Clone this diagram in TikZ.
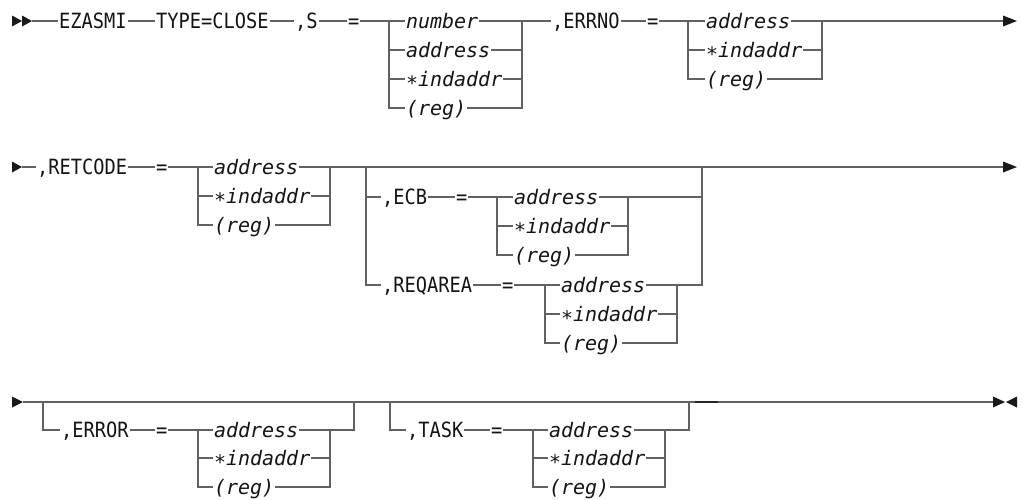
\documentclass[tikz,border=0pt]{standalone}
\usepackage{fontspec}
\newfontfamily\dmono{DejaVu Sans Mono}
\newfontfamily\dmonokw[FakeStretch=0.89]{DejaVu Sans Mono}
\newcommand\kwfont{\dmonokw\fontsize{21}{22}\selectfont}
\newcommand\varfont{\dmono\itshape\fontsize{20}{22}\selectfont}
\newcommand\lowast{\raisebox{-0.22em}{*}}
\tikzset{
  ln/.style={draw=black!62, line width=1.2pt},
  dk/.style={draw=black!85, line width=1.6pt},
  txt/.style={anchor=west, inner xsep=0.8pt, inner ysep=0pt, text height=14pt, text depth=0pt, text=black!92},
  kw/.style={txt, font=\kwfont},
  var/.style={txt, font=\varfont},
  tip/.style={fill=black!90}
}
\begin{document}
\begin{tikzpicture}[x=1pt,y=-1pt]
\useasboundingbox (0,0) rectangle (1023,499);

% ---------------- Row 1 ----------------
\fill[tip] (12,15.5) -- (22,21) -- (12,26.5) -- cycle;
\fill[tip] (22,15.5) -- (32,21) -- (22,26.5) -- cycle;
\coordinate (r1s) at (32,21);
\node[kw] (ezasmi) at (58,21) {EZASMI};
\node[kw] (type) at (155,21) {TYPE=CLOSE};
\node[kw] (s) at (294,21) {,S};
\node[kw] (eq1) at (347,21) {=};
\coordinate (L1) at (389,21);
\node[var] (n1) at (405,21) {number};
\node[var] (a1) at (405,50) {address};
\node[var] (i1) at (405,79) {\lowast indaddr};
\node[var] (r1) at (405,108) {(reg)};
\coordinate (R1) at (522,21);
\node[kw] (errno) at (551,21) {,ERRNO};
\node[kw] (eq2) at (646,21) {=};
\coordinate (L2) at (688,21);
\node[var] (a2) at (705,21) {address};
\node[var] (i2) at (705,50) {\lowast indaddr};
\node[var] (r2) at (705,79) {(reg)};
\coordinate (R2) at (822,21);
\coordinate (e1) at (1003,21);
\fill[tip] (1003,15.5) -- (1017,21) -- (1003,26.5) -- cycle;

\draw[ln] (r1s) -- (ezasmi.west) (ezasmi.east) -- (type.west) (type.east) -- (s.west)
  (s.east) -- (eq1.west) (eq1.east) -- (n1.west);
\draw[ln] (L1) |- (r1.west) (a1.west -| L1) -- (a1.west) (i1.west -| L1) -- (i1.west);
\draw[ln] (n1.east) -- (R1) -- (R1 |- r1.east) -- (r1.east)
  (a1.east) -- (a1.east -| R1) (i1.east) -- (i1.east -| R1);
\draw[ln] (R1) -- (errno.west) (errno.east) -- (eq2.west) (eq2.east) -- (a2.west);
\draw[ln] (L2) |- (r2.west) (i2.west -| L2) -- (i2.west);
\draw[ln] (a2.east) -- (R2) -- (R2 |- r2.east) -- (r2.east) (i2.east) -- (i2.east -| R2);
\draw[ln] (R2) -- (e1);

% ---------------- Row 2 ----------------
\fill[tip] (12,161.5) -- (22,167) -- (12,172.5) -- cycle;
\coordinate (r2s) at (22,167);
\node[kw] (retcode) at (36,167) {,RETCODE};
\node[kw] (eq3) at (155,167) {=};
\coordinate (L3) at (198,167);
\node[var] (a3) at (213,167) {address};
\node[var] (i3) at (213,196) {\lowast indaddr};
\node[var] (r3) at (213,225) {(reg)};
\coordinate (R3) at (330,167);
\coordinate (OL) at (366,167);
\coordinate (OR) at (702,167);
\node[kw] (ecb) at (381,197) {,ECB};
\node[kw] (eq4) at (455,197) {=};
\coordinate (L4) at (497,197);
\node[var] (a4) at (513,197) {address};
\node[var] (i4) at (513,226) {\lowast indaddr};
\node[var] (r4) at (513,255) {(reg)};
\coordinate (R4) at (628,197);
\node[kw] (reqarea) at (381,285) {,REQAREA};
\node[kw] (eq5) at (501,285) {=};
\coordinate (L5) at (545,285);
\node[var] (a5) at (560,285) {address};
\node[var] (i5) at (560,314) {\lowast indaddr};
\node[var] (r5) at (560,343) {(reg)};
\coordinate (R5) at (677,285);
\coordinate (e2) at (1003,167);
\fill[tip] (1003,161.5) -- (1017,167) -- (1003,172.5) -- cycle;

\draw[ln] (r2s) -- (retcode.west) (retcode.east) -- (eq3.west) (eq3.east) -- (a3.west);
\draw[ln] (L3) |- (r3.west) (i3.west -| L3) -- (i3.west);
\draw[ln] (a3.east) -- (R3) -- (R3 |- r3.east) -- (r3.east) (i3.east) -- (i3.east -| R3);
\draw[ln] (R3) -- (OL) -- (OR) -- (e2);
\draw[ln] (OL) |- (reqarea.west) (ecb.west -| OL) -- (ecb.west);
\draw[ln] (ecb.east) -- (eq4.west) (eq4.east) -- (a4.west);
\draw[ln] (L4) |- (r4.west) (i4.west -| L4) -- (i4.west);
\draw[ln] (a4.east) -- (R4) -- (R4 |- r4.east) -- (r4.east) (i4.east) -- (i4.east -| R4);
\draw[ln] (R4) -- (OR |- R4);
\draw[ln] (reqarea.east) -- (eq5.west) (eq5.east) -- (a5.west);
\draw[ln] (L5) |- (r5.west) (i5.west -| L5) -- (i5.west);
\draw[ln] (a5.east) -- (R5) -- (R5 |- r5.east) -- (r5.east) (i5.east) -- (i5.east -| R5);
\draw[ln] (R5) -- (OR |- R5) -- (OR);

% ---------------- Row 3 ----------------
\fill[tip] (12,396.5) -- (23,402) -- (12,407.5) -- cycle;
\coordinate (r3s) at (23,402);
\coordinate (O1L) at (43,402);
\coordinate (O1R) at (354,402);
\node[kw] (error) at (60,430) {,ERROR};
\node[kw] (eq6) at (155,430) {=};
\coordinate (L6) at (198,430);
\node[var] (a6) at (213,430) {address};
\node[var] (i6) at (213,458) {\lowast indaddr};
\node[var] (r6) at (213,487) {(reg)};
\coordinate (R6) at (330,430);
\coordinate (O2L) at (390,402);
\coordinate (O2R) at (689,402);
\node[kw] (task) at (406,430) {,TASK};
\node[kw] (eq7) at (490,430) {=};
\coordinate (L7) at (533,430);
\node[var] (a7) at (548,430) {address};
\node[var] (i7) at (548,458) {\lowast indaddr};
\node[var] (r7) at (548,487) {(reg)};
\coordinate (R7) at (665,430);
\coordinate (d1) at (695,402);
\coordinate (d2) at (718,402);
\coordinate (e3) at (993,402);
\fill[tip] (993,396.5) -- (1005,402) -- (993,407.5) -- cycle;
\fill[tip] (1017,396.5) -- (1006,402) -- (1017,407.5) -- cycle;

\draw[ln] (r3s) -- (O1L) -- (O1R) -- (O2L) -- (O2R) -- (e3);
\draw[ln] (O1L) |- (error.west) (error.east) -- (eq6.west) (eq6.east) -- (a6.west);
\draw[ln] (L6) |- (r6.west) (i6.west -| L6) -- (i6.west);
\draw[ln] (a6.east) -- (R6) -- (R6 |- r6.east) -- (r6.east) (i6.east) -- (i6.east -| R6);
\draw[ln] (R6) -- (O1R |- R6) -- (O1R);
\draw[ln] (O2L) |- (task.west) (task.east) -- (eq7.west) (eq7.east) -- (a7.west);
\draw[ln] (L7) |- (r7.west) (i7.west -| L7) -- (i7.west);
\draw[ln] (a7.east) -- (R7) -- (R7 |- r7.east) -- (r7.east) (i7.east) -- (i7.east -| R7);
\draw[ln] (R7) -- (O2R |- R7) -- (O2R);
\draw[dk] (d1) -- (d2);
\end{tikzpicture}
\end{document}
